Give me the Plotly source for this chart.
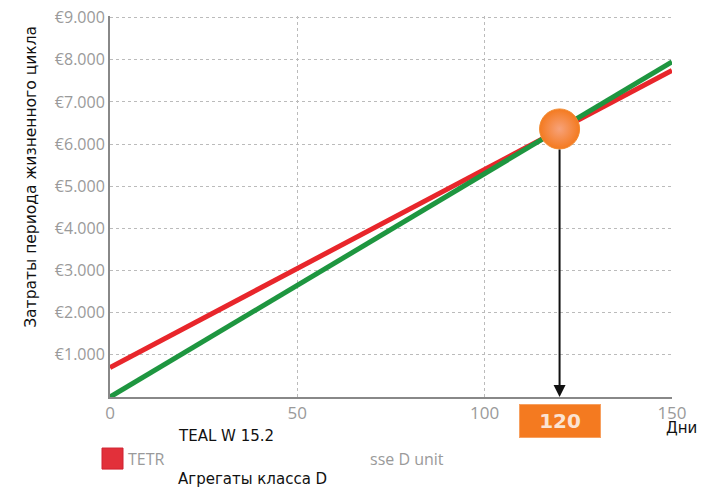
import plotly.graph_objects as go

# data
days = [0, 150]
tetr_cost = [700, 7750]      # red line
teal_cost = [0, 7950]        # green line
break_even_day = 120
break_even_cost = 6360
y_ticks = [1000, 2000, 3000, 4000, 5000, 6000, 7000, 8000, 9000]
y_tick_text = ["€1.000", "€2.000", "€3.000", "€4.000", "€5.000",
               "€6.000", "€7.000", "€8.000", "€9.000"]
x_ticks = [0, 50, 100, 150]

# the page adds an 8px body margin, so the figure is made 8px smaller
OFF = 8
W, H = 712 - OFF, 489 - OFF
Y_TOP = 9040                     # a bit of headroom so the 9000 gridline is drawn
L, R, B = 110, 672, 397          # plot area in page pixels
T = B - (B - 18) * Y_TOP / 9000  # 9000 sits at page y=18


def px(x):
    return (x - L) / (R - L)


def py(y):
    return (B - y) / (B - T)


fig = go.Figure()
fig.add_trace(go.Scatter(x=days, y=tetr_cost, mode="lines",
                         line=dict(color="#e8262b", width=5), name="TETR"))
fig.add_trace(go.Scatter(x=days, y=teal_cost, mode="lines",
                         line=dict(color="#1e9640", width=5), name="TEAL W 15.2"))

# arrow from the sphere down to the axis
fig.add_annotation(x=break_even_day, y=0, ax=break_even_day, ay=break_even_cost - 450,
                   xref="x", yref="y", axref="x", ayref="y", showarrow=True,
                   arrowhead=2, arrowsize=1.2, arrowwidth=2, arrowcolor="#111", text="")

fig.add_trace(go.Scatter(x=[break_even_day], y=[break_even_cost], mode="markers",
                         marker=dict(size=40, color="#f47a20",
                                     gradient=dict(type="radial", color="#f7a27a"),
                                     line=dict(color="#f28a30", width=1))))

gray = "#9a9a9a"
fig.update_layout(
    width=W, height=H, showlegend=False,
    margin=dict(l=L - OFF, r=712 - R, t=T - OFF, b=489 - B),
    plot_bgcolor="white", paper_bgcolor="white",
    font=dict(family="Open Sans", color=gray, size=15),
    xaxis=dict(range=[0, 150.01], tickvals=x_ticks, showgrid=True, gridcolor="#bbb",
               griddash="dot", gridwidth=1, showline=True, linecolor="#888", linewidth=2,
               zeroline=False, ticks="", automargin=False, ticklabeloverflow="allow",
               tickfont=dict(color=gray, size=17)),
    yaxis=dict(range=[0, Y_TOP], tickvals=y_ticks, ticktext=y_tick_text, showgrid=True,
               gridcolor="#bbb", griddash="dot", gridwidth=1, showline=True,
               linecolor="#888", linewidth=2, zeroline=False, ticks="", automargin=False,
               ticklabeloverflow="allow", tickfont=dict(color=gray, size=16)),
)

# y axis title
fig.add_annotation(x=px(20), y=py(177), xref="paper", yref="paper", textangle=-90,
                   text="Затраты периода жизненного цикла", showarrow=False,
                   font=dict(family="DejaVu Sans", color="#111", size=15.5))

# 120 label box
fig.add_annotation(x=break_even_day, y=py(421), xref="x", yref="paper", yanchor="middle",
                   text="<b>120</b>", showarrow=False, bgcolor="#f47a20",
                   bordercolor="#f7a060", borderwidth=1, borderpad=4,
                   font=dict(color="#fbe3d2", size=20, family="DejaVu Sans"), width=72)

fig.add_annotation(x=px(681), y=py(428), xref="paper", yref="paper", xanchor="center",
                   yanchor="middle", text="Дни", showarrow=False,
                   font=dict(family="DejaVu Sans", color="#111", size=15))

# legend-like texts
fig.add_annotation(x=px(176), y=py(436), xref="paper", yref="paper", xanchor="left",
                   yanchor="middle", text="TEAL W 15.2", showarrow=False,
                   font=dict(family="DejaVu Sans", color="#111", size=15))
fig.add_annotation(x=px(126), y=py(459), xref="paper", yref="paper", xanchor="left",
                   yanchor="middle", text="TETR", showarrow=False,
                   font=dict(color=gray, size=16))
fig.add_annotation(x=px(368), y=py(459), xref="paper", yref="paper", xanchor="left",
                   yanchor="middle", text="sse D unit", showarrow=False,
                   font=dict(color=gray, size=16))
fig.add_annotation(x=px(176), y=py(479), xref="paper", yref="paper", xanchor="left",
                   yanchor="middle", text="Агрегаты класса D",
                   showarrow=False, font=dict(family="DejaVu Sans", color="#111", size=15))

# red legend swatch
fig.add_shape(type="rect", xref="paper", yref="paper",
              x0=px(102), x1=px(123), y0=py(469), y1=py(448),
              fillcolor="#e2303a", line=dict(color="#d02030", width=1))

fig.write_html("out.html")
